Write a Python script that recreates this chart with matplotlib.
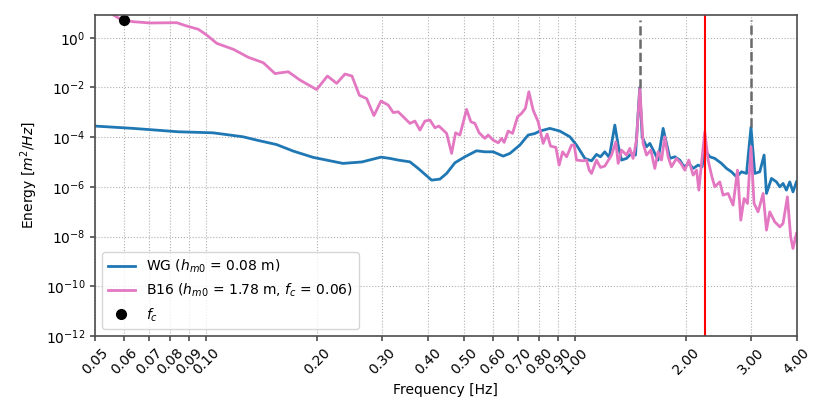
import numpy as np
import matplotlib
matplotlib.use("Agg")
import matplotlib.pyplot as plt
from matplotlib.ticker import FixedLocator, FormatStrFormatter, NullLocator

### DATA

# WG spectrum
wg_freq = [0.05, 0.0634, 0.0841, 0.1044, 0.1259, 0.1372, 0.1554, 0.1724, 0.1953, 0.2351,
           0.2647, 0.2981, 0.3153, 0.3320, 0.3572, 0.3761, 0.4090, 0.4307, 0.4492, 0.4730,
           0.5035, 0.5415, 0.5704, 0.6007, 0.6395, 0.6670, 0.7095, 0.7474, 0.7791, 0.8040,
           0.8558, 0.9110, 0.9698, 1.011, 1.065, 1.110, 1.145, 1.174, 1.206, 1.240,
           1.284, 1.311, 1.339, 1.381, 1.425, 1.461, 1.500, 1.523, 1.565, 1.598,
           1.641, 1.682, 1.736, 1.773, 1.811, 1.868, 1.926, 1.979, 2.038, 2.094,
           2.160, 2.214, 2.252, 2.324, 2.397, 2.499, 2.579, 2.660, 2.745, 2.832,
           2.922, 3.005, 3.077, 3.174, 3.261, 3.310, 3.415, 3.522, 3.597, 3.671,
           3.749, 3.828, 3.906, 3.992]
wg_energy = [2.80e-4, 2.26e-4, 1.65e-4, 1.50e-4, 1.04e-4, 7.64e-5, 5.04e-5, 2.76e-5, 1.54e-5, 8.83e-6,
             1.01e-5, 1.58e-5, 1.40e-5, 1.20e-5, 1.02e-5, 5.55e-6, 1.88e-6, 2.06e-6, 3.49e-6, 9.33e-6,
             1.63e-5, 2.84e-5, 2.58e-5, 2.58e-5, 1.73e-5, 2.23e-5, 4.81e-5, 1.22e-4, 1.40e-4, 1.76e-4,
             2.26e-4, 1.76e-4, 1.04e-4, 4.81e-5, 1.40e-5, 1.12e-5, 2.03e-5, 1.63e-5, 2.58e-5, 1.54e-5,
             3.07e-4, 4.81e-5, 1.20e-5, 1.40e-5, 2.23e-5, 1.91e-5, 9.9e-3, 1.04e-4, 4.11e-5, 5.63e-5,
             2.58e-5, 1.20e-5, 2.26e-4, 5.63e-5, 1.40e-5, 1.63e-5, 1.20e-5, 6.44e-6, 8.83e-6, 5.55e-6,
             7.54e-6, 6.44e-6, 3.03e-5, 1.63e-5, 1.40e-5, 8.83e-6, 5.55e-6, 4.05e-6, 2.55e-6, 4.05e-6,
             3.49e-6, 2.55e-4, 3.49e-6, 4.05e-6, 1.91e-5, 5.47e-7, 2.20e-6, 1.60e-6, 1.01e-6, 1.38e-6,
             7.43e-7, 1.60e-6, 6.35e-7, 1.60e-6]

# B16 spectrum
b16_freq = [0.0516, 0.0561, 0.0591, 0.0635, 0.0705, 0.0833, 0.0886, 0.0953, 0.1004, 0.1069,
            0.1186, 0.1302, 0.1430, 0.1538, 0.1671, 0.1797, 0.1995, 0.2134, 0.2261, 0.2381,
            0.2487, 0.2606, 0.2726, 0.2853, 0.2981, 0.3119, 0.3218, 0.3320, 0.3572, 0.3685,
            0.3802, 0.3922, 0.4047, 0.4175, 0.4281, 0.4492, 0.4634, 0.4751, 0.4880, 0.5088,
            0.5226, 0.5359, 0.5504, 0.5704, 0.5822, 0.6007, 0.6199, 0.6332, 0.6435, 0.6597,
            0.6781, 0.6996, 0.7173, 0.7345, 0.7506, 0.7710, 0.7955, 0.8207, 0.8415, 0.8596,
            0.8884, 0.9069, 0.9266, 0.9501, 0.9800, 0.9962, 1.011, 1.050, 1.076, 1.094,
            1.110, 1.145, 1.174, 1.206, 1.258, 1.292, 1.311, 1.339, 1.381, 1.410,
            1.439, 1.470, 1.501, 1.532, 1.565, 1.608, 1.648, 1.682, 1.719, 1.754,
            1.791, 1.829, 1.887, 1.939, 1.988, 2.038, 2.094, 2.139, 2.170, 2.206,
            2.252, 2.299, 2.348, 2.397, 2.473, 2.524, 2.605, 2.687, 2.762, 2.819,
            2.878, 2.940, 3.005, 3.063, 3.141, 3.241, 3.310, 3.379, 3.486, 3.597,
            3.671, 3.772, 3.850, 3.906, 3.992]
b16_energy = [20.7, 8.2, 5.16, 4.40, 3.91, 4.01, 2.96, 2.18, 1.28, 0.595,
              0.341, 0.163, 0.0986, 0.0362, 0.0428, 0.0199, 0.00824, 0.0288, 0.01462, 0.0346,
              0.0288, 0.00481, 0.00357, 7.40e-4, 2.84e-3, 1.96e-3, 9.77e-4, 1.05e-3, 3.59e-4, 4.45e-4,
              1.93e-4, 4.45e-4, 4.88e-4, 2.39e-4, 2.80e-4, 1.42e-4, 2.23e-5, 1.50e-4, 1.22e-4, 1.31e-3,
              4.17e-4, 3.59e-4, 1.50e-4, 8.95e-5, 1.22e-4, 7.64e-5, 5.95e-5, 8.95e-5, 6.18e-5, 1.76e-4,
              1.42e-4, 6.62e-4, 9.08e-4, 1.44e-3, 6.71e-3, 1.23e-3, 4.17e-4, 5.63e-5, 1.33e-4, 4.38e-5,
              3.89e-5, 7.54e-6, 2.58e-5, 1.63e-5, 4.81e-5, 4.81e-5, 1.20e-5, 1.12e-5, 1.20e-5, 4.74e-6,
              3.49e-6, 1.20e-5, 6.09e-6, 6.87e-6, 1.91e-5, 6.53e-5, 8.83e-6, 3.03e-5, 1.91e-5, 3.54e-5,
              1.40e-5, 7.64e-5, 9.20e-3, 5.63e-5, 1.91e-5, 3.03e-5, 5.55e-6, 2.58e-5, 1.20e-5, 1.04e-4,
              1.63e-5, 6.44e-6, 1.40e-5, 8.83e-6, 4.74e-6, 1.20e-5, 2.98e-6, 4.74e-6, 7.43e-7, 8.83e-6,
              1.65e-4, 1.20e-5, 2.98e-6, 1.01e-6, 1.60e-6, 4.68e-7, 5.47e-7, 1.85e-7, 4.74e-6, 4.61e-8,
              3.44e-7, 2.17e-7, 4.11e-5, 2.17e-7, 9.95e-8, 5.47e-7, 1.83e-8, 9.95e-8, 3.94e-8, 2.48e-8,
              3.40e-8, 4.00e-7, 9.82e-9, 3.35e-9, 1.35e-8]

wg_hm0 = 0.08
b16_hm0 = 1.78
fc = 0.06
fc_energy = 5.0
cutoff_freq = 2.25
peak_freqs = [1.5, 3.0]
peak_energy = [9.9e-3, 2.55e-4]

xtick_vals = [0.05, 0.06, 0.07, 0.08, 0.09, 0.10, 0.20, 0.30, 0.40, 0.50,
              0.60, 0.70, 0.80, 0.90, 1.00, 2.00, 3.00, 4.00]
ytick_vals = [1e0, 1e-2, 1e-4, 1e-6, 1e-8, 1e-10, 1e-12]

### PLOT

fig = plt.figure(figsize=(8.3, 4.15), dpi=100)
ax = fig.add_axes([0.1145, 0.190, 0.8455, 0.7739])

ax.plot(wg_freq, wg_energy, color='tab:blue', lw=2,
        label='WG ($h_{m0}$ = %.2f m)' % wg_hm0)
ax.plot(b16_freq, b16_energy, color='tab:pink', lw=2,
        label='B16 ($h_{m0}$ = %.2f m, $f_c$ = %.2f)' % (b16_hm0, fc))
ax.plot([fc], [fc_energy], 'o', color='black', ms=7, label='$f_c$')

ax.vlines(peak_freqs, peak_energy, fc_energy, colors='dimgray', linestyles='--', lw=1.8)
ax.axvline(cutoff_freq, color='red', lw=1.5)

ax.set_xscale('log')
ax.set_yscale('log')
ax.set_xlim(0.05, 4.0)
ax.set_ylim(1e-12, 8.2)

ax.xaxis.set_major_locator(FixedLocator(xtick_vals))
ax.xaxis.set_major_formatter(FormatStrFormatter('%.2f'))
ax.xaxis.set_minor_locator(NullLocator())
ax.yaxis.set_major_locator(FixedLocator(ytick_vals))
ax.yaxis.set_minor_locator(NullLocator())
plt.setp(ax.get_xticklabels(), rotation=45)

for sp in ax.spines.values():
    sp.set_color('#4d4d4d')
    sp.set_linewidth(1.2)
ax.tick_params(color='#4d4d4d', width=1.2)

ax.grid(True, linestyle=':', color='#b0b0b0')
ax.set_xlabel('Frequency [Hz]')
ax.set_ylabel('Energy [$m^2/Hz$]')
ax.legend(loc='lower left')

fig.savefig('out.png', dpi=100)
